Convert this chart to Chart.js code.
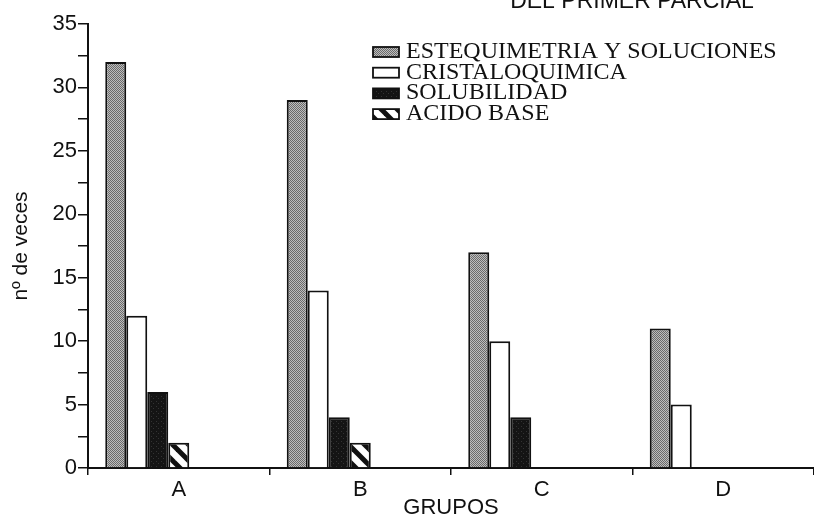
<!DOCTYPE html>
<html><head><meta charset="utf-8">
<script src="https://cdn.jsdelivr.net/npm/chart.js@4/dist/chart.umd.min.js"></script>
<style>html,body{margin:0;padding:0;background:#fff;overflow:hidden}canvas{display:block}</style>
</head><body>
<canvas id="c" width="814" height="525"></canvas>
<script>
const categories = ['A', 'B', 'C', 'D'];
const seriesNames = ['ESTEQUIMETRIA Y SOLUCIONES', 'CRISTALOQUIMICA', 'SOLUBILIDAD', 'ACIDO BASE'];
const estequimetria = [32, 29, 17, 11];
const cristaloquimica = [12, 14, 10, 5];
const solubilidad = [6, 4, 4, 0];
const acidoBase = [2, 2, 0, 0];
const yTickLabels = [0, 5, 10, 15, 20, 25, 30, 35];
const chartTitle = 'DEL PRIMER PARCIAL';
const xTitle = 'GRUPOS';
const yTitle = 'nº de veces';

const INK = '#111111';
const SANS = "'Liberation Sans', Arial, sans-serif";
const SERIF = "'Liberation Serif', 'Times New Roman', serif";

function makePattern(size, draw) {
  const c = document.createElement('canvas');
  c.width = c.height = size;
  const g = c.getContext('2d');
  draw(g, size);
  return g.createPattern(c, 'repeat');
}
const grayPat = makePattern(4, (g, s) => {
  g.fillStyle = '#bdbdbd'; g.fillRect(0, 0, s, s);
  g.fillStyle = '#6a6a6a';
  for (let i = 0; i < s; i++) for (let j = 0; j < s; j++) if ((i + j) % 2 === 0) g.fillRect(i, j, 1, 1);
});
const blackPat = makePattern(5, (g, s) => {
  g.fillStyle = '#141414'; g.fillRect(0, 0, s, s);
  g.fillStyle = '#333333'; g.fillRect(1, 1, 1, 1); g.fillRect(3, 3, 1, 1);
});
const hatchPat = makePattern(16, (g, s) => {
  g.fillStyle = '#fff'; g.fillRect(0, 0, s, s);
  g.strokeStyle = '#111'; g.lineWidth = 5;
  for (let k = -1; k <= 1; k++) {
    g.beginPath(); g.moveTo(k * s - 2, -2); g.lineTo(k * s + s + 2, s + 2); g.stroke();
  }
});
const fills = [grayPat, '#ffffff', blackPat, hatchPat];
const seriesData = [estequimetria, cristaloquimica, solubilidad, acidoBase];

const datasets = seriesData.map((d, i) => ({
  label: seriesNames[i], data: d, backgroundColor: fills[i],
  borderColor: INK, borderWidth: 2
}));
// empty slots so the bar group sits to the left of each category, as in the original
for (let k = 0; k < 3; k++) datasets.push({ label: '', data: categories.map(() => null), backgroundColor: 'rgba(0,0,0,0)' });

const decorPlugin = {
  id: 'decor',
  afterDraw(chart) {
    const ctx = chart.ctx;
    ctx.save();
    // cut-off title at the top
    ctx.fillStyle = INK;
    ctx.font = '23px ' + SANS;
    ctx.textAlign = 'center';
    ctx.textBaseline = 'alphabetic';
    ctx.fillText(chartTitle, 632, 8);
    // legend
    ctx.font = '24px ' + SERIF;
    ctx.textAlign = 'left';
    for (let i = 0; i < seriesNames.length; i++) {
      const base = 58 + i * 20.7;
      ctx.fillStyle = fills[i];
      ctx.fillRect(373, base - 11, 26, 10);
      ctx.strokeStyle = INK; ctx.lineWidth = 1.8;
      ctx.strokeRect(373, base - 11, 26, 10);
      ctx.fillStyle = INK;
      ctx.fillText(seriesNames[i], 406, base);
    }
    ctx.restore();
  }
};

new Chart(document.getElementById('c'), {
  type: 'bar',
  data: { labels: categories, datasets },
  plugins: [decorPlugin],
  options: {
    responsive: false, animation: false, devicePixelRatio: 1,
    layout: { padding: { top: 24, left: 0, right: 0, bottom: 0 } },
    plugins: { legend: { display: false }, tooltip: { enabled: false }, title: { display: false } },
    datasets: { bar: { categoryPercentage: 0.81, barPercentage: 1 } },
    scales: {
      x: {
        offset: true,
        grid: { offset: true, drawOnChartArea: false, tickLength: 7, color: INK, lineWidth: 1.5 },
        border: { color: INK, width: 2 },
        ticks: { font: { family: SANS, size: 22 }, color: INK, padding: 2 },
        title: { display: true, text: xTitle, font: { family: SANS, size: 22 }, color: INK, padding: { top: 0, bottom: 4 } },
        afterFit(s) { s.height = 57; }
      },
      y: {
        min: 0, max: 35,
        grid: { drawOnChartArea: false, tickLength: 10, color: INK, lineWidth: 1.5 },
        border: { color: INK, width: 2 },
        ticks: {
          stepSize: 2.5, font: { family: SANS, size: 22 }, color: INK, padding: 1,
          callback: v => yTickLabels.includes(v) ? String(v) : ''
        },
        title: { display: true, text: yTitle, font: { family: SANS, size: 21 }, color: INK, padding: { top: 9, bottom: 0 } },
        afterFit(s) { s.width = 88; }
      }
    }
  }
});
</script>
</body></html>
